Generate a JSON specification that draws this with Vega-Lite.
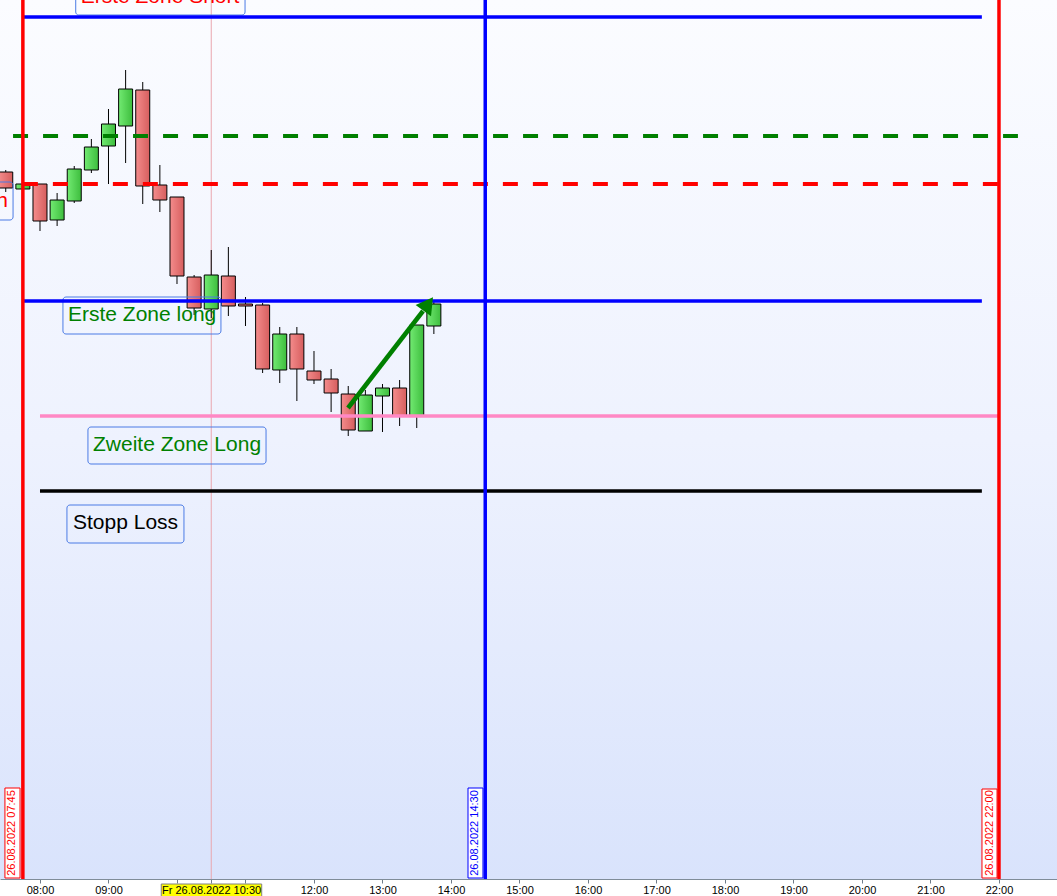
{
  "width": 1057,
  "height": 879,
  "autosize": "none",
  "padding": {"left": 0, "right": 0, "top": 0, "bottom": 17},
  "config": {"view": {"stroke": null}, "font": "Liberation Sans"},
  "datasets": {
    "candles": [
      {"t": "2022-08-26T07:30:00Z", "open": 13228, "high": 13230, "low": 13208, "close": 13212},
      {"t": "2022-08-26T07:45:00Z", "open": 13211, "high": 13216, "low": 13211, "close": 13216},
      {"t": "2022-08-26T08:00:00Z", "open": 13216, "high": 13216, "low": 13169, "close": 13179},
      {"t": "2022-08-26T08:15:00Z", "open": 13180, "high": 13207, "low": 13174, "close": 13200},
      {"t": "2022-08-26T08:30:00Z", "open": 13199, "high": 13234, "low": 13197, "close": 13231},
      {"t": "2022-08-26T08:45:00Z", "open": 13230, "high": 13261, "low": 13227, "close": 13253},
      {"t": "2022-08-26T09:00:00Z", "open": 13254, "high": 13291, "low": 13216, "close": 13276},
      {"t": "2022-08-26T09:15:00Z", "open": 13274, "high": 13330, "low": 13237, "close": 13311},
      {"t": "2022-08-26T09:30:00Z", "open": 13310, "high": 13318, "low": 13196, "close": 13214},
      {"t": "2022-08-26T09:45:00Z", "open": 13215, "high": 13235, "low": 13188, "close": 13200},
      {"t": "2022-08-26T10:00:00Z", "open": 13203, "high": 13203, "low": 13116, "close": 13124},
      {"t": "2022-08-26T10:15:00Z", "open": 13123, "high": 13125, "low": 13085, "close": 13092},
      {"t": "2022-08-26T10:30:00Z", "open": 13091, "high": 13150, "low": 13082, "close": 13125},
      {"t": "2022-08-26T10:45:00Z", "open": 13124, "high": 13153, "low": 13084, "close": 13094},
      {"t": "2022-08-26T11:00:00Z", "open": 13096, "high": 13103, "low": 13074, "close": 13094},
      {"t": "2022-08-26T11:15:00Z", "open": 13095, "high": 13097, "low": 13027, "close": 13031},
      {"t": "2022-08-26T11:30:00Z", "open": 13030, "high": 13073, "low": 13017, "close": 13066},
      {"t": "2022-08-26T11:45:00Z", "open": 13066, "high": 13073, "low": 12999, "close": 13031},
      {"t": "2022-08-26T12:00:00Z", "open": 13029, "high": 13049, "low": 13016, "close": 13020},
      {"t": "2022-08-26T12:15:00Z", "open": 13021, "high": 13031, "low": 12988, "close": 13007},
      {"t": "2022-08-26T12:30:00Z", "open": 13006, "high": 13014, "low": 12964, "close": 12970},
      {"t": "2022-08-26T12:45:00Z", "open": 12969, "high": 13010, "low": 12969, "close": 13005},
      {"t": "2022-08-26T13:00:00Z", "open": 13004, "high": 13016, "low": 12968, "close": 13012},
      {"t": "2022-08-26T13:15:00Z", "open": 13012, "high": 13020, "low": 12974, "close": 12984},
      {"t": "2022-08-26T13:30:00Z", "open": 12984, "high": 13075, "low": 12972, "close": 13075},
      {"t": "2022-08-26T13:45:00Z", "open": 13074, "high": 13100, "low": 13066, "close": 13096}
    ]
  },
  "layer": [
    {
      "data": {"values": [{"t": "2022-08-26T07:24:58Z", "t2": "2022-08-26T22:50:49Z", "p": 12521, "p2": 13400}]},
      "mark": {"type": "rect", "fill": {"gradient": "linear", "x1": 0, "y1": 1, "x2": 0, "y2": 0, "stops": [{"offset": 0, "color": "#d9e3fc"}, {"offset": 0.5, "color": "#eef2fe"}, {"offset": 1, "color": "#fbfcff"}]}},
      "encoding": {
        "x": {"field": "t", "type": "temporal", "title": null,
          "scale": {"type": "utc", "nice": false, "padding": 0, "domain": [1661498698000, 1661554249000]},
          "axis": {"format": "%H:%M", "values": [1661500800000, 1661504400000, 1661508000000, 1661509800000, 1661511600000, 1661515200000, 1661518800000, 1661522400000, 1661526000000, 1661529600000, 1661533200000, 1661536800000, 1661540400000, 1661544000000, 1661547600000, 1661551200000], "labelExpr": "indexof(['10:00','10:30','11:00'], datum.label) >= 0 ? '' : datum.label", "labelFontSize": 11, "labelColor": "#000000", "labelFont": "Liberation Sans", "domainColor": "#7f8c99", "tickColor": "#6f7c89", "tickSize": 4, "labelPadding": 1, "labelFlush": false, "labelOverlap": false, "grid": false, "zindex": 0}},
        "x2": {"field": "t2"},
        "y": {"field": "p", "type": "quantitative", "axis": null, "scale": {"domain": [12521, 13400], "nice": false, "zero": false, "padding": 0}},
        "y2": {"field": "p2"}
      }
    },
    {
      "data": {"values": [{"t": "2022-08-26T10:30:00Z"}]},
      "mark": {"type": "rule", "color": "#eaa6ae", "strokeWidth": 1},
      "encoding": {
        "x": {"field": "t", "type": "temporal", "title": null}
      }
    },
    {
      "data": {"name": "candles"},
      "mark": {"type": "rule", "color": "#000000", "strokeWidth": 1},
      "encoding": {
        "x": {"field": "t", "type": "temporal", "title": null},
        "y": {"field": "low", "type": "quantitative", "axis": null},
        "y2": {"field": "high"}
      }
    },
    {
      "data": {"name": "candles"},
      "transform": [{"filter": "datum.close < datum.open"}],
      "mark": {"type": "bar", "width": 14, "stroke": "#000000", "strokeWidth": 1, "fill": {"gradient": "linear", "x1": 0, "y1": 0, "x2": 1, "y2": 0, "stops": [{"offset": 0, "color": "#f48c8c"}, {"offset": 1, "color": "#d65e5e"}]}},
      "encoding": {
        "x": {"field": "t", "type": "temporal", "title": null},
        "y": {"field": "open", "type": "quantitative", "axis": null},
        "y2": {"field": "close"}
      }
    },
    {
      "data": {"name": "candles"},
      "transform": [{"filter": "datum.close >= datum.open"}],
      "mark": {"type": "bar", "width": 14, "stroke": "#000000", "strokeWidth": 1, "fill": {"gradient": "linear", "x1": 0, "y1": 0, "x2": 1, "y2": 0, "stops": [{"offset": 0, "color": "#72ea72"}, {"offset": 1, "color": "#3dbd3d"}]}},
      "encoding": {
        "x": {"field": "t", "type": "temporal", "title": null},
        "y": {"field": "open", "type": "quantitative", "axis": null},
        "y2": {"field": "close"}
      }
    },
    {
      "data": {"values": [
        {"t": "2022-08-26T08:31:18Z", "t2": "2022-08-26T10:59:36Z", "p": 13385, "p2": 13422},
        {"t": "2022-08-26T06:30:00Z", "t2": "2022-08-26T07:36:24Z", "p": 13218, "p2": 13180},
        {"t": "2022-08-26T08:20:06Z", "t2": "2022-08-26T10:38:30Z", "p": 13103, "p2": 13066},
        {"t": "2022-08-26T08:42:00Z", "t2": "2022-08-26T11:18:00Z", "p": 12973, "p2": 12936},
        {"t": "2022-08-26T08:23:36Z", "t2": "2022-08-26T10:06:06Z", "p": 12895, "p2": 12857}
      ]},
      "mark": {"type": "rect", "fill": "transparent", "stroke": "#4b7be5", "strokeWidth": 1, "cornerRadius": 3},
      "encoding": {
        "x": {"field": "t", "type": "temporal", "title": null},
        "x2": {"field": "t2"},
        "y": {"field": "p", "type": "quantitative", "axis": null},
        "y2": {"field": "p2"}
      }
    },
    {
      "data": {"values": [
        {"linie": "Erste Zone Short", "t": "2022-08-26T07:45:00Z", "t2": "2022-08-26T21:45:00Z", "p": 13383},
        {"linie": "Erste Zone long", "t": "2022-08-26T07:45:00Z", "t2": "2022-08-26T21:45:00Z", "p": 13099},
        {"linie": "Zweite Zone Long", "t": "2022-08-26T08:00:00Z", "t2": "2022-08-26T22:00:00Z", "p": 12984},
        {"linie": "Stopp Loss", "t": "2022-08-26T08:00:00Z", "t2": "2022-08-26T21:45:00Z", "p": 12909}
      ]},
      "mark": {"type": "rule", "strokeWidth": 3.5},
      "encoding": {
        "x": {"field": "t", "type": "temporal", "title": null},
        "x2": {"field": "t2"},
        "y": {"field": "p", "type": "quantitative", "axis": null},
        "color": {"field": "linie", "type": "nominal", "legend": null,
          "scale": {"domain": ["Erste Zone Short", "Erste Zone long", "Zweite Zone Long", "Stopp Loss", "Grüne Linie", "Rote Linie", "Start", "Mitte", "Ende"], "range": ["#0000ff", "#0000ff", "#ff88c4", "#000000", "#008000", "#ff0000", "#ff0000", "#0000ff", "#ff0000"]}}
      }
    },
    {
      "data": {"values": [
        {"linie": "Grüne Linie", "t": "2022-08-26T07:36:24Z", "t2": "2022-08-26T22:16:36Z", "p": 13264},
        {"linie": "Rote Linie", "t": "2022-08-26T07:45:00Z", "t2": "2022-08-26T22:00:00Z", "p": 13216}
      ]},
      "mark": {"type": "rule", "strokeWidth": 4, "strokeDash": [15, 15]},
      "encoding": {
        "x": {"field": "t", "type": "temporal", "title": null},
        "x2": {"field": "t2"},
        "y": {"field": "p", "type": "quantitative", "axis": null},
        "color": {"field": "linie", "type": "nominal", "legend": null}
      }
    },
    {
      "data": {"values": [
        {"linie": "Start", "t": "2022-08-26T07:45:00Z"},
        {"linie": "Mitte", "t": "2022-08-26T14:30:00Z"},
        {"linie": "Ende", "t": "2022-08-26T22:00:00Z"}
      ]},
      "mark": {"type": "rule", "strokeWidth": 3.5},
      "encoding": {
        "x": {"field": "t", "type": "temporal", "title": null},
        "color": {"field": "linie", "type": "nominal", "legend": null}
      }
    },
    {
      "data": {"values": [{"t": "2022-08-26T12:29:48Z", "t2": "2022-08-26T13:35:30Z", "p": 12992, "p2": 13089}]},
      "mark": {"type": "rule", "color": "#008000", "strokeWidth": 4.5},
      "encoding": {
        "x": {"field": "t", "type": "temporal", "title": null},
        "x2": {"field": "t2"},
        "y": {"field": "p", "type": "quantitative", "axis": null},
        "y2": {"field": "p2"}
      }
    },
    {
      "data": {"values": [{"t": "2022-08-26T13:40:00Z", "p": 13096}]},
      "mark": {"type": "point", "shape": "triangle-up", "filled": true, "color": "#008000", "opacity": 1, "size": 361, "angle": 36},
      "encoding": {
        "x": {"field": "t", "type": "temporal", "title": null},
        "y": {"field": "p", "type": "quantitative", "axis": null}
      }
    },
    {
      "data": {"values": [{"t": "2022-08-26T08:35:36Z", "p": 13397, "label": "Erste Zone Short"}]},
      "mark": {"type": "text", "align": "left", "baseline": "alphabetic", "fontSize": 21, "color": "#ff0000"},
      "encoding": {
        "x": {"field": "t", "type": "temporal", "title": null},
        "y": {"field": "p", "type": "quantitative", "axis": null},
        "text": {"field": "label"}
      }
    },
    {
      "data": {"values": [{"t": "2022-08-26T07:32:00Z", "p": 13193, "label": "Vortageshoch"}]},
      "mark": {"type": "text", "align": "right", "baseline": "alphabetic", "fontSize": 21, "color": "#ff0000"},
      "encoding": {
        "x": {"field": "t", "type": "temporal", "title": null},
        "y": {"field": "p", "type": "quantitative", "axis": null},
        "text": {"field": "label"}
      }
    },
    {
      "data": {"values": [
        {"t": "2022-08-26T08:24:31Z", "p": 13079, "label": "Erste Zone long"},
        {"t": "2022-08-26T08:46:25Z", "p": 12949, "label": "Zweite Zone Long"}
      ]},
      "mark": {"type": "text", "align": "left", "baseline": "alphabetic", "fontSize": 21, "color": "#008000"},
      "encoding": {
        "x": {"field": "t", "type": "temporal", "title": null},
        "y": {"field": "p", "type": "quantitative", "axis": null},
        "text": {"field": "label"}
      }
    },
    {
      "data": {"values": [{"t": "2022-08-26T08:28:54Z", "p": 12871, "label": "Stopp Loss"}]},
      "mark": {"type": "text", "align": "left", "baseline": "alphabetic", "fontSize": 21, "color": "#000000"},
      "encoding": {
        "x": {"field": "t", "type": "temporal", "title": null},
        "y": {"field": "p", "type": "quantitative", "axis": null},
        "text": {"field": "label"}
      }
    },
    {
      "data": {"values": [
        {"t": "2022-08-26T07:29:18Z", "t2": "2022-08-26T07:42:30Z", "p": 12612, "p2": 12522},
        {"t": "2022-08-26T21:45:06Z", "t2": "2022-08-26T21:58:18Z", "p": 12611, "p2": 12522}
      ]},
      "mark": {"type": "rect", "fill": "#ffffff", "stroke": "#ff0000", "strokeWidth": 1},
      "encoding": {
        "x": {"field": "t", "type": "temporal", "title": null},
        "x2": {"field": "t2"},
        "y": {"field": "p", "type": "quantitative", "axis": null},
        "y2": {"field": "p2"}
      }
    },
    {
      "data": {"values": [
        {"t": "2022-08-26T07:35:54Z", "p": 12567, "label": "26.08.2022 07:45"},
        {"t": "2022-08-26T21:51:42Z", "p": 12567, "label": "26.08.2022 22:00"}
      ]},
      "mark": {"type": "text", "angle": 270, "align": "center", "baseline": "middle", "fontSize": 11, "color": "#ff0000"},
      "encoding": {
        "x": {"field": "t", "type": "temporal", "title": null},
        "y": {"field": "p", "type": "quantitative", "axis": null},
        "text": {"field": "label"}
      }
    },
    {
      "data": {"values": [{"t": "2022-08-26T14:14:54Z", "t2": "2022-08-26T14:28:00Z", "p": 12612, "p2": 12522}]},
      "mark": {"type": "rect", "fill": "#ffffff", "stroke": "#0000ff", "strokeWidth": 1},
      "encoding": {
        "x": {"field": "t", "type": "temporal", "title": null},
        "x2": {"field": "t2"},
        "y": {"field": "p", "type": "quantitative", "axis": null},
        "y2": {"field": "p2"}
      }
    },
    {
      "data": {"values": [{"t": "2022-08-26T14:21:24Z", "p": 12567, "label": "26.08.2022 14:30"}]},
      "mark": {"type": "text", "angle": 270, "align": "center", "baseline": "middle", "fontSize": 11, "color": "#0000ff"},
      "encoding": {
        "x": {"field": "t", "type": "temporal", "title": null},
        "y": {"field": "p", "type": "quantitative", "axis": null},
        "text": {"field": "label"}
      }
    },
    {
      "data": {"values": [{"t": "2022-08-26T09:46:12Z", "t2": "2022-08-26T11:14:12Z", "p": 12516, "p2": 12495}]},
      "mark": {"type": "rect", "fill": "#ffff00", "stroke": "#808080", "strokeWidth": 1, "clip": false},
      "encoding": {
        "x": {"field": "t", "type": "temporal", "title": null},
        "x2": {"field": "t2"},
        "y": {"field": "p", "type": "quantitative", "axis": null},
        "y2": {"field": "p2"}
      }
    },
    {
      "data": {"values": [{"t": "2022-08-26T10:30:18Z", "p": 12509, "label": "Fr 26.08.2022 10:30"}]},
      "mark": {"type": "text", "align": "center", "baseline": "middle", "fontSize": 11, "color": "#000000", "clip": false},
      "encoding": {
        "x": {"field": "t", "type": "temporal", "title": null},
        "y": {"field": "p", "type": "quantitative", "axis": null},
        "text": {"field": "label"}
      }
    }
  ]
}
